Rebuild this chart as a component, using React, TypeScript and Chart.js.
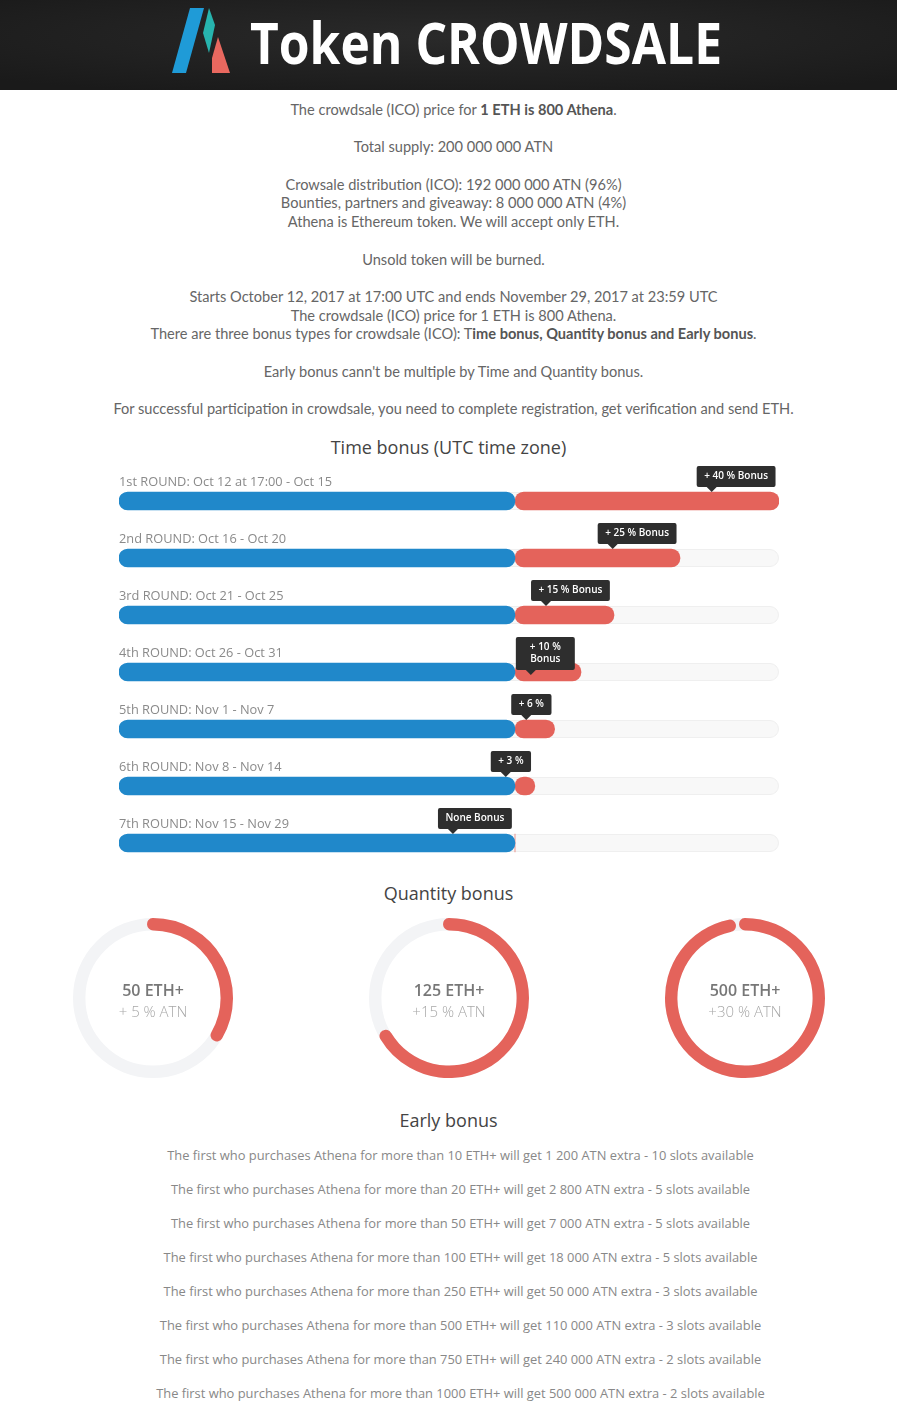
import React, { useEffect, useRef } from "react";
import { Chart, registerables } from "chart.js";

Chart.register(...registerables);

// ---------- data ----------
const rounds = [
  "1st ROUND: Oct 12 at 17:00 - Oct 15",
  "2nd ROUND: Oct 16 - Oct 20",
  "3rd ROUND: Oct 21 - Oct 25",
  "4th ROUND: Oct 26 - Oct 31",
  "5th ROUND: Nov 1 - Nov 7",
  "6th ROUND: Nov 8 - Nov 14",
  "7th ROUND: Nov 15 - Nov 29",
];
const baseShare = [60, 60, 60, 60, 60, 60, 60];
const timeBonus = [40, 25, 15, 10, 6, 3, 0];
const bonusTips = ["+ 40 % Bonus", "+ 25 % Bonus", "+ 15 % Bonus", "+ 10 %\nBonus", "+ 6 %", "+ 3 %", "None Bonus"];
const tipAnchors = [89.8, 74.8, 64.7, 62.4, 61.7, 58.6, 50.6];
const scaleMax = 100;

const qtyThresholds = ["50 ETH+", "125 ETH+", "500 ETH+"];
const qtyBonusLabels = ["+ 5 % ATN", "+15 % ATN", "+30 % ATN"];
const qtyArcShare = [36, 69, 99.3];

type Seg = { t: string; b?: boolean };
const introLines: Seg[][] = [
  [{ t: "The crowdsale (ICO) price for " }, { t: "1 ETH is 800 Athena", b: true }, { t: "." }],
  [],
  [{ t: "Total supply: 200 000 000 ATN" }],
  [],
  [{ t: "Crowsale distribution (ICO): 192 000 000 ATN (96%)" }],
  [{ t: "Bounties, partners and giveaway: 8 000 000 ATN (4%)" }],
  [{ t: "Athena is Ethereum token. We will accept only ETH." }],
  [],
  [{ t: "Unsold token will be burned." }],
  [],
  [{ t: "Starts October 12, 2017 at 17:00 UTC and ends November 29, 2017 at 23:59 UTC" }],
  [{ t: "The crowdsale (ICO) price for 1 ETH is 800 Athena." }],
  [
    { t: "There are three bonus types for crowdsale (ICO): T" },
    { t: "ime bonus, Quantity bonus and Early bonus", b: true },
    { t: "." },
  ],
  [],
  [{ t: "Early bonus cann't be multiple by Time and Quantity bonus." }],
  [],
  [{ t: "For successful participation in crowdsale, you need to complete registration, get verification and send ETH." }],
];

const earlyBonusLines = [
  "The first who purchases Athena for more than 10 ETH+ will get 1 200 ATN extra - 10 slots available",
  "The first who purchases Athena for more than 20 ETH+ will get 2 800 ATN extra - 5 slots available",
  "The first who purchases Athena for more than 50 ETH+ will get 7 000 ATN extra - 5 slots available",
  "The first who purchases Athena for more than 100 ETH+ will get 18 000 ATN extra - 5 slots available",
  "The first who purchases Athena for more than 250 ETH+ will get 50 000 ATN extra - 3 slots available",
  "The first who purchases Athena for more than 500 ETH+ will get 110 000 ATN extra - 3 slots available",
  "The first who purchases Athena for more than 750 ETH+ will get 240 000 ATN extra - 2 slots available",
  "The first who purchases Athena for more than 1000 ETH+ will get 500 000 ATN extra - 2 slots available",
];

const BLUE = "#2088ca";
const RED = "#e4635b";

// ---------- time bonus chart ----------
function TimeBonusChart() {
  const ref = useRef<HTMLCanvasElement>(null);
  useEffect(() => {
    const barH = 18;
    const trackPlugin = {
      id: "trackAndLabels",
      beforeDatasetsDraw(chart: any) {
        const { ctx } = chart;
        const xs = chart.scales.x;
        const ys = chart.scales.y;
        const x0 = xs.getPixelForValue(0);
        const x1 = xs.getPixelForValue(scaleMax);
        ctx.save();
        rounds.forEach((label, i) => {
          const cy = ys.getPixelForValue(i);
          ctx.beginPath();
          ctx.roundRect(x0 + 0.5, cy - barH / 2 + 0.5, x1 - x0 - 1, barH - 1, barH / 2);
          ctx.fillStyle = "#f8f8f8";
          ctx.fill();
          ctx.strokeStyle = "#efefef";
          ctx.lineWidth = 1;
          ctx.stroke();
          ctx.fillStyle = "#8a8a8a";
          ctx.font = '12.8px "Open Sans"';
          ctx.textAlign = "left";
          ctx.textBaseline = "middle";
          ctx.fillText(label, x0, cy - 19);
        });
        ctx.restore();
      },
      afterDatasetsDraw(chart: any) {
        const { ctx } = chart;
        const xs = chart.scales.x;
        const ys = chart.scales.y;
        ctx.save();
        ctx.font = '600 10px "Open Sans"';
        bonusTips.forEach((tip, i) => {
          const lines = tip.split("\n");
          const cy = ys.getPixelForValue(i);
          const barTop = cy - barH / 2;
          const ax = xs.getPixelForValue(tipAnchors[i]);
          const tw = Math.max(...lines.map((l) => ctx.measureText(l).width));
          const w = tw + (lines.length > 1 ? 28 : 15);
          const h = lines.length * 12 + 9;
          const left = ax - 15;
          const top = barTop - 26;
          ctx.fillStyle = "#2e2e2e";
          ctx.beginPath();
          ctx.roundRect(left, top, w, h, 2);
          ctx.fill();
          ctx.beginPath();
          ctx.moveTo(ax - 5, top + h);
          ctx.lineTo(ax + 5, top + h);
          ctx.lineTo(ax, top + h + 5);
          ctx.closePath();
          ctx.fill();
          ctx.fillStyle = "#ffffff";
          ctx.textAlign = "center";
          ctx.textBaseline = "middle";
          lines.forEach((l, k) => ctx.fillText(l, left + w / 2, top + 10.5 + k * 12));
        });
        ctx.restore();
      },
    };
    const radius = { topLeft: 9, topRight: 9, bottomLeft: 9, bottomRight: 9 };
    const chart = new Chart(ref.current!, {
      type: "bar",
      data: {
        labels: rounds,
        datasets: [
          {
            data: baseShare,
            backgroundColor: BLUE,
            barThickness: barH,
            borderRadius: radius,
            borderSkipped: false,
            borderWidth: 0,
          },
          {
            data: timeBonus,
            backgroundColor: RED,
            barThickness: barH,
            borderRadius: radius,
            borderSkipped: false,
            borderWidth: 0,
          },
        ],
      },
      options: {
        indexAxis: "y",
        animation: false,
        responsive: false,
        devicePixelRatio: 1,
        events: [],
        layout: { padding: { left: 119, right: 118, top: 17.5, bottom: 8.5 } },
        plugins: { legend: { display: false }, tooltip: { enabled: false } },
        scales: {
          x: { stacked: true, min: 0, max: scaleMax, display: false },
          y: { stacked: true, display: false },
        },
      },
      plugins: [trackPlugin],
    } as any);
    return () => chart.destroy();
  }, []);
  return (
    <canvas
      ref={ref}
      width={897}
      height={425}
      style={{ position: "absolute", left: 0, top: 455, width: 897, height: 425 }}
    />
  );
}

// ---------- quantity rings ----------
function QtyRing({ idx, cx, cy }: { idx: number; cx: number; cy: number }) {
  const ref = useRef<HTMLCanvasElement>(null);
  useEffect(() => {
    const trackPlugin = {
      id: "ringTrack",
      beforeDatasetsDraw(chart: any) {
        const arc = chart.getDatasetMeta(0).data[0];
        if (!arc) return;
        const { ctx } = chart;
        const r = (arc.innerRadius + arc.outerRadius) / 2;
        ctx.save();
        ctx.beginPath();
        ctx.arc(arc.x, arc.y, r, 0, Math.PI * 2);
        ctx.lineWidth = arc.outerRadius - arc.innerRadius;
        ctx.strokeStyle = "#f3f4f6";
        ctx.stroke();
        ctx.restore();
      },
    };
    const share = qtyArcShare[idx];
    const chart = new Chart(ref.current!, {
      type: "doughnut",
      data: {
        labels: ["bonus", "rest"],
        datasets: [
          {
            data: [share, 100 - share],
            backgroundColor: [RED, "rgba(0,0,0,0)"],
            borderWidth: 0,
            borderRadius: (c: any) => (c.dataIndex === 0 ? 6 : 0),
          },
        ],
      },
      options: {
        animation: false,
        responsive: false,
        devicePixelRatio: 1,
        events: [],
        cutout: "84.5%",
        rotation: -4.6,
        layout: { padding: 5 },
        plugins: { legend: { display: false }, tooltip: { enabled: false } },
      },
      plugins: [trackPlugin],
    } as any);
    return () => chart.destroy();
  }, [idx]);
  return (
    <>
      <canvas
        ref={ref}
        width={170}
        height={170}
        style={{ position: "absolute", left: cx - 85, top: cy - 85, width: 170, height: 170 }}
      />
      <div
        style={{
          position: "absolute",
          left: cx - 80,
          width: 160,
          top: cy - 18,
          textAlign: "center",
          fontFamily: '"Open Sans", sans-serif',
        }}
      >
        <div style={{ fontSize: 16, fontWeight: 600, color: "#777", lineHeight: "20px" }}>{qtyThresholds[idx]}</div>
        <div style={{ fontSize: 15, fontWeight: 300, color: "#a8a8a8", lineHeight: "22px" }}>{qtyBonusLabels[idx]}</div>
      </div>
    </>
  );
}

function Heading({ text, cy }: { text: string; cy: number }) {
  return (
    <div
      style={{
        position: "absolute",
        left: 0,
        width: 897,
        top: cy - 12,
        lineHeight: "24px",
        textAlign: "center",
        fontFamily: '"Open Sans", sans-serif',
        fontSize: 18,
        color: "#444",
      }}
    >
      {text}
    </div>
  );
}

export default function App() {
  return (
    <div
      style={{
        position: "absolute",
        left: 0,
        top: 0,
        width: 897,
        height: 1427,
        overflow: "hidden",
        background: "#fff",
      }}
    >
      <svg width={897} height={90} style={{ display: "block", position: "absolute", left: 0, top: 0 }}>
        <defs>
          <radialGradient id="hdr" cx="50%" cy="40%" r="70%">
            <stop offset="0%" stopColor="#2a2a2a" />
            <stop offset="100%" stopColor="#1a1a1a" />
          </radialGradient>
        </defs>
        <rect width={897} height={90} fill="url(#hdr)" />
        <polygon points="172,73 190,8 204,8 186,73" fill="#1f9bd7" />
        <polygon points="209,8 215,25 209,53 203,33" fill="#27b4ae" />
        <polygon points="218,37 230,73 212,73 212,58" fill="#e9685f" />
        <text
          x={250}
          y={64}
          fill="#ffffff"
          fontFamily="Open Sans"
          fontWeight={700}
          fontSize={58}
          textLength={472}
          lengthAdjust="spacingAndGlyphs"
        >
          Token CROWDSALE
        </text>
      </svg>

      <div
        style={{
          position: "absolute",
          left: 5,
          width: 897,
          top: 101,
          textAlign: "center",
          fontFamily: "Lato, sans-serif",
          fontSize: 14.6,
          lineHeight: "18.7px",
          color: "#666",
        }}
      >
        {introLines.map((segs, i) => (
          <div key={i} style={{ height: 18.7, whiteSpace: "nowrap" }}>
            {segs.map((s, k) =>
              s.b ? (
                <b key={k} style={{ color: "#555" }}>
                  {s.t}
                </b>
              ) : (
                <span key={k}>{s.t}</span>
              )
            )}
          </div>
        ))}
      </div>

      <Heading text="Time bonus (UTC time zone)" cy={447} />
      <TimeBonusChart />

      <Heading text="Quantity bonus" cy={893} />
      <QtyRing idx={0} cx={153} cy={998} />
      <QtyRing idx={1} cx={449} cy={998} />
      <QtyRing idx={2} cx={745} cy={998} />

      <Heading text="Early bonus" cy={1120} />
      <div
        style={{
          position: "absolute",
          left: 12,
          width: 897,
          top: 1138,
          textAlign: "center",
          fontFamily: '"Open Sans", sans-serif',
          fontSize: 12.9,
          lineHeight: "34px",
          color: "#888",
        }}
      >
        {earlyBonusLines.map((l, i) => (
          <div key={i} style={{ whiteSpace: "nowrap" }}>
            {l}
          </div>
        ))}
      </div>
    </div>
  );
}
